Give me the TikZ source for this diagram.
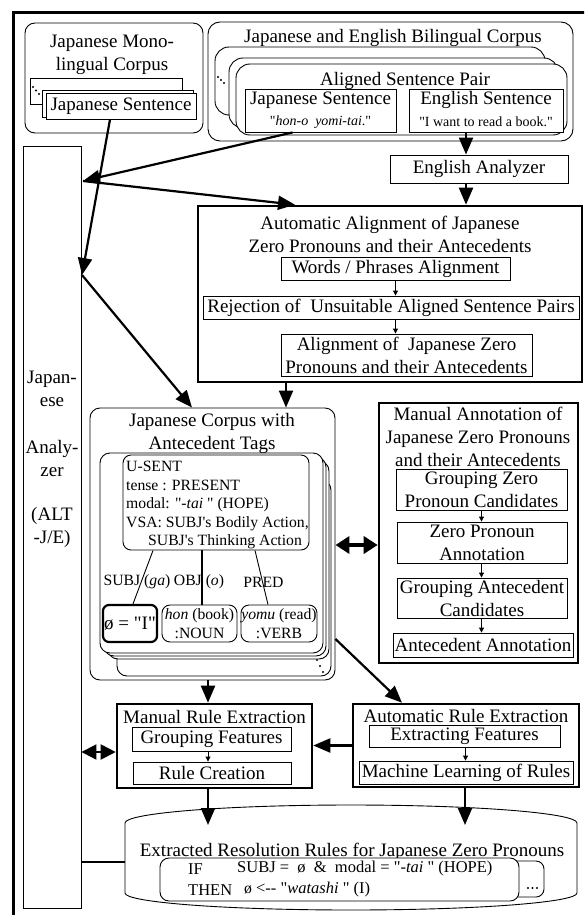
\documentclass[tikz,border=0pt]{standalone}
\usepackage{fontspec}
\setmainfont{Liberation Serif}[Ligatures=TeXOff]
\usetikzlibrary{arrows.meta}
\newcommand{\fbig}{\fontsize{19}{23}\selectfont}
\newcommand{\fmid}{\fontsize{15.7}{18.5}\selectfont}
\newcommand{\frule}{\fontsize{16.5}{19}\selectfont}
\newcommand{\fsml}{\fontsize{14}{15}\selectfont}

\begin{document}
\begin{tikzpicture}[x=1pt, y=-1pt,
  box/.style={rectangle, draw, line width=0.9pt, fill=white, inner sep=0pt,
              align=center, font=\fbig},
  thickbox/.style={box, line width=2.6pt},
  card/.style={box, rounded corners=10pt},
  txt/.style={inner sep=0pt, align=center, font=\fbig},
  arrow/.style={-{Triangle[length=17pt, width=14pt]}, line width=2.2pt},
  tinyarrow/.style={-{Triangle[length=5pt, width=5pt]}, line width=0.9pt},
  twoway/.style={{Triangle[length=14pt, width=17pt]}-{Triangle[length=14pt, width=17pt]}, line width=3.5pt},
  twowaysmall/.style={{Triangle[length=15pt, width=15pt]}-{Triangle[length=15pt, width=15pt]}, line width=2pt}
]
\path[use as bounding box, clip] (0,0) rectangle (584,915);
\draw[line width=3pt] (13,930) -- (13,13) -- (600,13);

% monolingual corpus
\node[card, minimum width=178pt, minimum height=110pt] (mono) at (114,78) {};
\node[txt] (monotitle) at (112,54.5) {Japanese Mono-\\lingual Corpus};
\node[box, minimum width=152pt, minimum height=26pt] (jsback) at (106,91) {};
\foreach \i in {0,1,2} \fill (33+3*\i,87+3.5*\i) circle (1.1pt);
\node[box, minimum width=151pt, minimum height=27pt] (jsmid) at (117.5,103.5) {};
\node[box, minimum width=150pt, minimum height=26pt] (jsmono) at (121,106) {Japanese Sentence};

% bilingual corpus
\node[card, rounded corners=12pt, minimum width=365pt, minimum height=119pt] (bili) at (390.5,81.5) {};
\node[txt] (bilititle) at (393,38) {Japanese and English Bilingual Corpus};
\node[card, rounded corners=14pt, minimum width=330pt, minimum height=68pt] (pairback) at (380,81) {};
\foreach \i in {0,1,2} \fill (218+3*\i,77+3*\i) circle (1.1pt);
\node[card, rounded corners=14pt, minimum width=329pt, minimum height=70pt] (pairmid) at (393.5,93) {};
\node[card, rounded corners=14pt, minimum width=331pt, minimum height=71pt] (pair) at (401.5,99.5) {};
\node[txt] (pairtitle) at (405,81) {Aligned Sentence Pair};
\node[box, minimum width=151pt, minimum height=43pt] (jsent) at (320.5,110.5) {};
\node[txt] (jsenttext) at (320.5,100) {Japanese Sentence};
\node[txt, font=\fsml] (jsentex) at (320.5,122) {"\textit{hon-o\ \ yomi-tai}."};
\node[box, minimum width=154pt, minimum height=43pt] (esent) at (486,110.5) {};
\node[txt] (esenttext) at (486,100) {English Sentence};
\node[txt, font=\fsml] (esentex) at (486,122) {"I want to read a book."};
\node[box, minimum width=178pt, minimum height=28pt] (engan) at (479,169) {English Analyzer};

% automatic alignment
\node[thickbox, minimum width=384pt, minimum height=176pt] (autoal) at (390,294) {};
\node[txt] (autoaltitle) at (390,234) {Automatic Alignment of Japanese\\Zero Pronouns and their Antecedents};
\node[box, minimum width=229pt, minimum height=23pt] (words) at (395.5,268.5) {Words / Phrases Alignment};
\node[box, minimum width=376pt, minimum height=23pt] (reject) at (391,307.5) {Rejection of\ \ Unsuitable Aligned Sentence Pairs};
\node[box, minimum width=251pt, minimum height=42pt] (alignzp) at (406.5,355) {Alignment of\ \ Japanese Zero\\Pronouns and their Antecedents};

% japanese analyzer
\node[box, minimum width=58pt, minimum height=762pt] (analyzer) at (52,527) {};
\node[txt] (ana1) at (52,389) {Japan-\\ese};
\node[txt] (ana2) at (52,458.5) {Analy-\\zer};
\node[txt] (ana3) at (52,527.5) {(ALT\\-J/E)};

% corpus with antecedent tags
\node[card, minimum width=245pt, minimum height=272pt] (corpus) at (212.5,544) {};
\node[txt] (corpustitle) at (212,433.5) {Japanese Corpus with\\Antecedent Tags};
\node[card, minimum width=214pt, minimum height=196pt] (tagdots) at (224,578) {};
\foreach \i in {0,1,2} \fill (317+3*\i,660+6*\i) circle (1.2pt);
\node[card, minimum width=221pt, minimum height=198pt] (tagc) at (218.5,560) {};
\node[card, minimum width=222pt, minimum height=199pt] (tagb) at (215,556.5) {};
\node[card, minimum width=223pt, minimum height=200pt] (taga) at (211.5,553) {};
\node[card, rounded corners=8pt, minimum width=186pt, minimum height=95pt] (usent) at (216,502.5) {};
\node[txt, font=\fmid, align=left, anchor=west] (usenttext) at (126,505) {U-SENT\\tense : PRESENT\\modal: "\textit{-tai} " (HOPE)\\VSA: SUBJ's Bodily Action,\\\hspace*{22pt}SUBJ's Thinking Action};
\node[txt, font=\fmid] (subj) at (137,582) {SUBJ (\textit{ga})};
\node[txt, font=\fmid] (obj) at (199,582) {OBJ (\textit{o})};
\node[txt, font=\fmid] (pred) at (263.5,582) {PRED};
\node[box, rounded corners=6pt, line width=2.2pt, minimum width=54pt, minimum height=37pt] (zero) at (130,623.5) {ø = "I"};
\node[box, rounded corners=8pt, font=\fmid, minimum width=75pt, minimum height=37pt] (hon) at (199.5,623.5) {\textit{hon} (book)\\:NOUN};
\node[box, rounded corners=8pt, font=\fmid, minimum width=76pt, minimum height=37pt] (yomu) at (279,623.5) {\textit{yomu} (read)\\:VERB};
\draw[line width=0.9pt] ([xshift=-63pt]usent.south) -- ([xshift=3pt]zero.north);
\draw[line width=2pt] ([xshift=-14pt]usent.south) -- ([xshift=2.5pt]hon.north);
\draw[line width=0.9pt] ([xshift=39pt]usent.south) -- ([xshift=-11pt]yomu.north);

% manual annotation
\node[thickbox, minimum width=199pt, minimum height=260pt] (manann) at (478.5,533) {};
\node[txt] (manantitle) at (478,437) {Manual Annotation of\\Japanese Zero Pronouns\\and their Antecedents};
\node[box, minimum width=171pt, minimum height=41pt] (grpzero) at (481.5,490) {Grouping Zero\\Pronoun Candidates};
\node[box, minimum width=170pt, minimum height=41pt] (zpann) at (482,542.5) {Zero Pronoun\\Annotation};
\node[box, minimum width=170pt, minimum height=40pt] (grpant) at (482,598) {Grouping Antecedent\\Candidates};
\node[box, minimum width=180pt, minimum height=24pt] (antann) at (483,645) {Antecedent Annotation};

% rule extraction
\node[thickbox, minimum width=195pt, minimum height=84pt] (manrule) at (214.5,746) {};
\node[txt] (manruletitle) at (214.5,717) {Manual Rule Extraction};
\node[box, minimum width=159pt, minimum height=24pt] (grpfeat) at (211.5,739) {Grouping Features};
\node[box, minimum width=158pt, minimum height=22pt] (rulecr) at (212,773) {Rule Creation};
\node[thickbox, minimum width=226pt, minimum height=83pt] (autorule) at (466,745.5) {};
\node[txt] (autoruletitle) at (466,716) {Automatic Rule Extraction};
\node[box, minimum width=191pt, minimum height=22pt] (extfeat) at (464.5,736) {Extracting Features};
\node[box, minimum width=214pt, minimum height=23pt] (mlrules) at (466,772.5) {Machine Learning of Rules};

% extracted rules database
\draw[line width=0.9pt, fill=white] (125,823) arc[start angle=180, end angle=0, x radius=226pt, y radius=18pt]
  -- (577,893) arc[start angle=0, end angle=-180, x radius=226pt, y radius=17pt] -- cycle;
\coordinate (dbin) at (351,825);
\coordinate (dbleft) at (125,862);
\node[txt] (dbtitle) at (352,852) {Extracted Resolution Rules for Japanese Zero Pronouns};
\node[card, rounded corners=8pt, minimum width=344pt, minimum height=36pt] (rulesback) at (372,879) {};
\foreach \i in {0,1,2} \fill (528+4.5*\i,888) circle (1.2pt);
\node[card, rounded corners=9pt, minimum width=359pt, minimum height=43pt] (rules) at (339.5,879.5) {};
\node[txt, font=\frule, anchor=west] (rif) at (188,869) {IF};
\node[txt, font=\frule, anchor=west] (rifcond) at (237,869) {SUBJ =\ \ ø\ \ \&\ \ modal = "\textit{-tai} " (HOPE)};
\node[txt, font=\frule, anchor=west] (rthen) at (188,890) {THEN};
\node[txt, font=\frule, anchor=west] (rthenact) at (244,890) {{\fmid ø} <-- "\textit{watashi} " (I)};

% connectors
\coordinate (anaA) at (83,181);
\coordinate (anaB) at (82,275);
\draw[arrow] ([xshift=-11pt]jsmono.south) -- (anaB);
\draw[arrow] ([xshift=-28pt]jsent.south) -- (anaA);
\draw[arrow] (anaA) -- ([xshift=-95pt]autoal.north);
\draw[arrow] (anaB) -- ([xshift=-20.5pt]corpus.north);
\draw[arrow] ([xshift=-20pt]esent.south) -- ([xshift=-20pt]esent.south |- engan.north);
\draw[arrow] ([xshift=-13pt]engan.south) -- ([xshift=-13pt]engan.south |- autoal.north);
\draw[tinyarrow] (words.south) -- (words.south |- reject.north);
\draw[tinyarrow] (words.south |- reject.south) -- (words.south |- alignzp.north);
\draw[arrow] ([xshift=-104pt]autoal.south) -- ([xshift=-104pt]autoal.south |- corpus.north);
\draw[twoway] ([yshift=-12pt]manann.west) -- ([yshift=-12pt]manann.west -| corpus.east);
\draw[tinyarrow] (grpzero.south) -- (grpzero.south |- zpann.north);
\draw[tinyarrow] (grpzero.south |- zpann.south) -- (grpzero.south |- grpant.north);
\draw[tinyarrow] (grpzero.south |- grpant.south) -- (grpzero.south |- antann.north);
\draw[arrow] ([xshift=-4.5pt]corpus.south) -- ([xshift=-4.5pt]corpus.south |- manrule.north);
\draw[arrow] ([yshift=-95pt]corpus.east) -- ([xshift=-64pt]autorule.north);
\draw[arrow] (autorule.west) -- (autorule.west -| manrule.east);
\draw[tinyarrow] ([xshift=-3.5pt]grpfeat.south) -- ([xshift=-3.5pt]grpfeat.south |- rulecr.north);
\draw[tinyarrow] ([xshift=1pt]extfeat.south) -- ([xshift=1pt]extfeat.south |- mlrules.north);
\draw[twowaysmall] ([yshift=-6pt]manrule.west) -- ([yshift=-6pt]manrule.west -| analyzer.east);
\draw[arrow] ([xshift=-6.5pt]manrule.south) -- ([xshift=-6.5pt]manrule.south |- dbin);
\draw[arrow] ([xshift=-1pt]autorule.south) -- ([xshift=-1pt]autorule.south |- dbin);
\draw[line width=1.5pt] (dbleft) -- (dbleft -| analyzer.east);
\end{tikzpicture}
\end{document}
